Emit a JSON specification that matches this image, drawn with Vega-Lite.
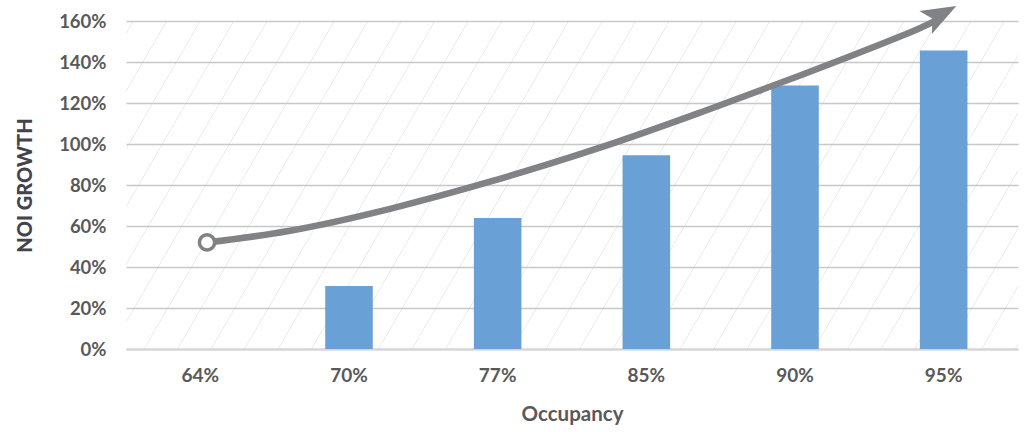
{
  "$schema": "https://vega.github.io/schema/vega-lite/v6.json",
  "width": 892,
  "height": 328,
  "autosize": {"type": "none"},
  "padding": {"left": 126, "top": 21, "right": 8, "bottom": 83},
  "background": "white",
  "config": {
    "view": {
      "stroke": null,
      "fill": {
        "gradient": "linear",
        "x1": 0, "y1": 0, "x2": 1.1605, "y2": 0.2475,
        "stops": [
          {"offset": 0.0, "color": "white"},
          {"offset": 0.00597, "color": "white"}, {"offset": 0.00667, "color": "#e4e4e4"}, {"offset": 0.00737, "color": "white"},
          {"offset": 0.03693, "color": "white"}, {"offset": 0.03763, "color": "#e4e4e4"}, {"offset": 0.03833, "color": "white"},
          {"offset": 0.06789, "color": "white"}, {"offset": 0.06859, "color": "#e4e4e4"}, {"offset": 0.06929, "color": "white"},
          {"offset": 0.09885, "color": "white"}, {"offset": 0.09955, "color": "#e4e4e4"}, {"offset": 0.10025, "color": "white"},
          {"offset": 0.12981, "color": "white"}, {"offset": 0.13051, "color": "#e4e4e4"}, {"offset": 0.13121, "color": "white"},
          {"offset": 0.16077, "color": "white"}, {"offset": 0.16147, "color": "#e4e4e4"}, {"offset": 0.16217, "color": "white"},
          {"offset": 0.19173, "color": "white"}, {"offset": 0.19243, "color": "#e4e4e4"}, {"offset": 0.19313, "color": "white"},
          {"offset": 0.22269, "color": "white"}, {"offset": 0.22339, "color": "#e4e4e4"}, {"offset": 0.22409, "color": "white"},
          {"offset": 0.25365, "color": "white"}, {"offset": 0.25435, "color": "#e4e4e4"}, {"offset": 0.25505, "color": "white"},
          {"offset": 0.28461, "color": "white"}, {"offset": 0.28531, "color": "#e4e4e4"}, {"offset": 0.28601, "color": "white"},
          {"offset": 0.31557, "color": "white"}, {"offset": 0.31627, "color": "#e4e4e4"}, {"offset": 0.31697, "color": "white"},
          {"offset": 0.34653, "color": "white"}, {"offset": 0.34723, "color": "#e4e4e4"}, {"offset": 0.34793, "color": "white"},
          {"offset": 0.37749, "color": "white"}, {"offset": 0.37819, "color": "#e4e4e4"}, {"offset": 0.37889, "color": "white"},
          {"offset": 0.40845, "color": "white"}, {"offset": 0.40915, "color": "#e4e4e4"}, {"offset": 0.40985, "color": "white"},
          {"offset": 0.43941, "color": "white"}, {"offset": 0.44011, "color": "#e4e4e4"}, {"offset": 0.44081, "color": "white"},
          {"offset": 0.47037, "color": "white"}, {"offset": 0.47107, "color": "#e4e4e4"}, {"offset": 0.47177, "color": "white"},
          {"offset": 0.50133, "color": "white"}, {"offset": 0.50203, "color": "#e4e4e4"}, {"offset": 0.50273, "color": "white"},
          {"offset": 0.53229, "color": "white"}, {"offset": 0.53299, "color": "#e4e4e4"}, {"offset": 0.53369, "color": "white"},
          {"offset": 0.56325, "color": "white"}, {"offset": 0.56395, "color": "#e4e4e4"}, {"offset": 0.56465, "color": "white"},
          {"offset": 0.59421, "color": "white"}, {"offset": 0.59491, "color": "#e4e4e4"}, {"offset": 0.59561, "color": "white"},
          {"offset": 0.62517, "color": "white"}, {"offset": 0.62587, "color": "#e4e4e4"}, {"offset": 0.62657, "color": "white"},
          {"offset": 0.65613, "color": "white"}, {"offset": 0.65683, "color": "#e4e4e4"}, {"offset": 0.65753, "color": "white"},
          {"offset": 0.68709, "color": "white"}, {"offset": 0.68779, "color": "#e4e4e4"}, {"offset": 0.68849, "color": "white"},
          {"offset": 0.71805, "color": "white"}, {"offset": 0.71875, "color": "#e4e4e4"}, {"offset": 0.71945, "color": "white"},
          {"offset": 0.74901, "color": "white"}, {"offset": 0.74971, "color": "#e4e4e4"}, {"offset": 0.75041, "color": "white"},
          {"offset": 0.77997, "color": "white"}, {"offset": 0.78067, "color": "#e4e4e4"}, {"offset": 0.78137, "color": "white"},
          {"offset": 0.81093, "color": "white"}, {"offset": 0.81163, "color": "#e4e4e4"}, {"offset": 0.81233, "color": "white"},
          {"offset": 0.84189, "color": "white"}, {"offset": 0.84259, "color": "#e4e4e4"}, {"offset": 0.84329, "color": "white"},
          {"offset": 0.87285, "color": "white"}, {"offset": 0.87355, "color": "#e4e4e4"}, {"offset": 0.87425, "color": "white"},
          {"offset": 0.90381, "color": "white"}, {"offset": 0.90451, "color": "#e4e4e4"}, {"offset": 0.90521, "color": "white"},
          {"offset": 0.93477, "color": "white"}, {"offset": 0.93547, "color": "#e4e4e4"}, {"offset": 0.93617, "color": "white"},
          {"offset": 0.96573, "color": "white"}, {"offset": 0.96643, "color": "#e4e4e4"}, {"offset": 0.96713, "color": "white"},
          {"offset": 0.99669, "color": "white"}, {"offset": 0.99739, "color": "#e4e4e4"}, {"offset": 0.99809, "color": "white"},
          {"offset": 1.0, "color": "white"}
        ]
      }
    },
    "font": "Lato",
    "axis": {
      "labelFont": "Lato",
      "titleFont": "Lato",
      "labelFontWeight": "bold",
      "titleFontWeight": "bold",
      "labelColor": "#595959",
      "ticks": false
    }
  },
  "datasets": {
    "bars": [
      {"occupancy": "64%", "growth": 0},
      {"occupancy": "70%", "growth": 0.307},
      {"occupancy": "77%", "growth": 0.639},
      {"occupancy": "85%", "growth": 0.945},
      {"occupancy": "90%", "growth": 1.285},
      {"occupancy": "95%", "growth": 1.456}
    ],
    "arrow": [
      {"i": 0, "u": 0.545, "v": 0.52},
      {"i": 1, "u": 1.103, "v": 0.577},
      {"i": 2, "u": 1.776, "v": 0.684},
      {"i": 3, "u": 2.448, "v": 0.816},
      {"i": 4, "u": 3.188, "v": 0.982},
      {"i": 5, "u": 3.861, "v": 1.153},
      {"i": 6, "u": 4.534, "v": 1.334},
      {"i": 7, "u": 5.206, "v": 1.524},
      {"i": 8, "u": 5.442, "v": 1.601}
    ],
    "start": [{"u": 0.545, "v": 0.52}],
    "head": [{"u": 5.482, "v": 1.633}]
  },
  "layer": [
    {
      "data": {"name": "bars"},
      "mark": {"type": "bar", "color": "#69A0D6"},
      "encoding": {
        "x": {
          "field": "occupancy",
          "type": "nominal",
          "sort": null,
          "scale": {"domain": ["64%", "70%", "77%", "85%", "90%", "95%"], "paddingInner": 0.68, "paddingOuter": 0.34},
          "axis": {
            "title": "Occupancy",
            "labelAngle": 0,
            "labelFontSize": 19,
            "labelPadding": 17,
            "domain": true,
            "domainColor": "#d4d4d4",
            "domainWidth": 2,
            "grid": false,
            "titleFontSize": 20.5,
            "titleColor": "#595959",
            "titleY": 65,
            "titleBaseline": "middle"
          }
        },
        "y": {
          "field": "growth",
          "type": "quantitative",
          "scale": {"domain": [0, 1.6], "nice": false},
          "axis": {
            "title": "NOI GROWTH",
            "values": [0, 0.2, 0.4, 0.6, 0.8, 1.0, 1.2, 1.4, 1.6],
            "format": ".0%",
            "labelFontSize": 18.5,
            "labelPadding": 20,
            "domain": false,
            "grid": true,
            "gridColor": "#c8c8c8",
            "gridWidth": 1.5,
            "titleFontSize": 20,
            "titleFontWeight": 900,
            "titleColor": "#43434d",
            "titleX": -101,
            "titleY": 164,
            "titleAngle": -90,
            "titleAlign": "center",
            "titleBaseline": "middle"
          }
        }
      }
    },
    {
      "encoding": {
        "x": {"field": "u", "type": "quantitative", "scale": {"domain": [0, 6], "nice": false, "zero": false}, "axis": null},
        "y": {"field": "v", "type": "quantitative", "scale": {"domain": [0, 1.6], "nice": false}}
      },
      "layer": [
        {
          "data": {"name": "arrow"},
          "mark": {"type": "line", "color": "#808285", "strokeWidth": 6.5, "interpolate": "natural", "clip": false, "strokeCap": "butt"},
          "encoding": {"order": {"field": "i", "type": "quantitative"}}
        },
        {
          "data": {"name": "start"},
          "mark": {"type": "point", "shape": "circle", "filled": true, "fill": "white", "stroke": "#808285", "strokeWidth": 3.5, "size": 230, "opacity": 1, "clip": false}
        },
        {
          "data": {"name": "head"},
          "mark": {"type": "point", "shape": "M1,0L-1,-0.75L-0.55,0L-1,0.75Z", "filled": true, "color": "#808285", "size": 1225, "angle": 331.5, "opacity": 1, "clip": false}
        }
      ]
    }
  ],
  "resolve": {"scale": {"x": "independent"}}
}
